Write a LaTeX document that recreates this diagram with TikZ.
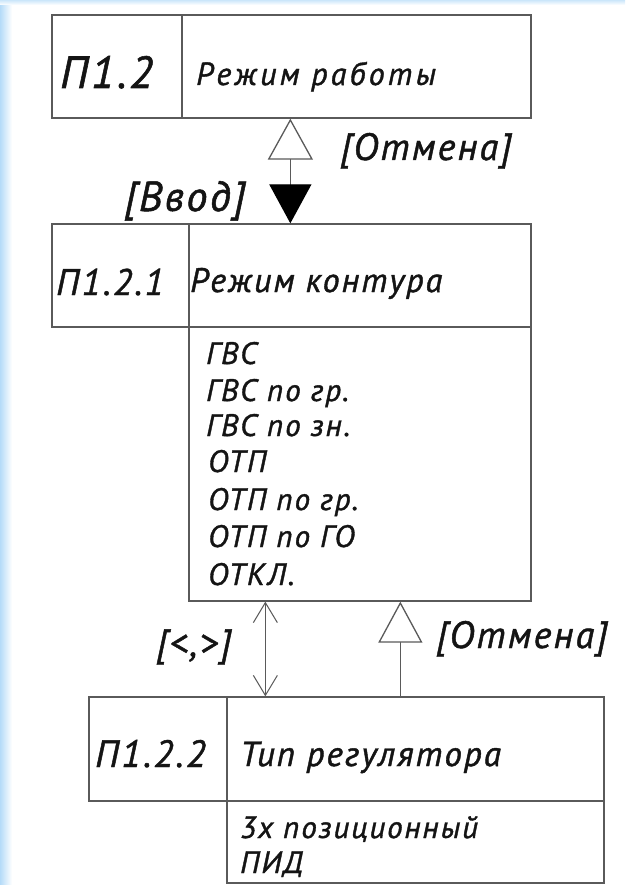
\documentclass[tikz,border=0pt]{standalone}
\usepackage{fontspec}
\newfontfamily\gost[LetterSpace=6,FakeBold=1.2]{PT Sans}
\usetikzlibrary{arrows.meta}
\definecolor{linec}{HTML}{5A5A5A}
\definecolor{txtc}{HTML}{141414}
\definecolor{edgeblue}{HTML}{B5DBF8}
\tikzset{
  cell/.style={draw=linec, line width=1.3pt, inner sep=0pt, minimum width=#1},
  lbl/.style={anchor=base west, inner sep=0pt, text=txtc, font=\gost\itshape},
  conn/.style={draw=linec, line width=1.3pt},
}
\begin{document}
\begin{tikzpicture}[x=1pt,y=-1pt]
\useasboundingbox (0,0) rectangle (625,885);
\fill[white] (0,0) rectangle (625,885);
\shade[left color=edgeblue, right color=white] (0,0) rectangle (12,885);
\shade[top color=edgeblue!70, bottom color=white] (0,0) rectangle (625,5);

% box 1
\node[cell=130pt, minimum height=103pt] (b1id) at (117,66.5) {};
\node[cell=349pt, minimum height=103pt] (b1nm) at (356.5,66.5) {};
% box 2
\node[cell=137pt, minimum height=103pt] (b2id) at (120.5,275.5) {};
\node[cell=342pt, minimum height=103pt] (b2nm) at (360,275.5) {};
\node[cell=342pt, minimum height=274pt] (b2ls) at (360,464) {};
% box 3
\node[cell=138pt, minimum height=104pt] (b3id) at (158,749) {};
\node[cell=377pt, minimum height=104pt] (b3nm) at (415.5,749) {};
\node[cell=377pt, minimum height=82pt] (b3ls) at (415.5,842) {};

% texts
\node[lbl, font=\gost\itshape\fontsize{45}{45}\selectfont] (t1) at (60,88) {П1.2};
\node[lbl, font=\gost\itshape\fontsize{32}{32}\selectfont\addfontfeature{LetterSpace=10}] (t2) at (196,85) {Режим работы};
\node[lbl, font=\gost\itshape\fontsize{38}{38}\selectfont] (l1) at (340,160) {[Отмена]};
\node[lbl, font=\gost\itshape\fontsize{42}{42}\selectfont] (l2) at (124,211) {[Ввод]};

\node[lbl, font=\gost\itshape\fontsize{37}{37}\selectfont] (t3) at (56,295) {П1.2.1};
\node[lbl, font=\gost\itshape\fontsize{34}{34}\selectfont] (t4) at (190,292) {Режим контура};
\node[lbl, font=\gost\itshape\fontsize{31}{31}\selectfont] (i1) at (206,364) {ГВС};
\node[lbl, font=\gost\itshape\fontsize{31}{31}\selectfont] (i2) at (206,401) {ГВС по гр.};
\node[lbl, font=\gost\itshape\fontsize{31}{31}\selectfont] (i3) at (206,436) {ГВС по зн.};
\node[lbl, font=\gost\itshape\fontsize{31}{31}\selectfont] (i4) at (208,472) {ОТП};
\node[lbl, font=\gost\itshape\fontsize{31}{31}\selectfont] (i5) at (208,510) {ОТП по гр.};
\node[lbl, font=\gost\itshape\fontsize{31}{31}\selectfont] (i6) at (208,547) {ОТП по ГО};
\node[lbl, font=\gost\itshape\fontsize{31}{31}\selectfont] (i7) at (208,585) {ОТКЛ.};

\node[lbl, font=\gost\itshape\fontsize{38}{38}\selectfont] (l3) at (156,656) {[<,>]};
\node[lbl, font=\gost\itshape\fontsize{38}{38}\selectfont] (l4) at (436,648) {[Отмена]};

\node[lbl, font=\gost\itshape\fontsize{38}{38}\selectfont] (t5) at (95,767) {П1.2.2};
\node[lbl, font=\gost\itshape\fontsize{35}{35}\selectfont] (t6) at (240,766) {Тип регулятора};
\node[lbl, font=\gost\itshape\fontsize{31}{31}\selectfont] (i8) at (240,838) {3х позиционный};
\node[lbl, font=\gost\itshape\fontsize{31}{31}\selectfont] (i9) at (240,873) {ПИД};

% connectors
\coordinate (c1a) at ([xshift=102pt]b2nm.north west);
\coordinate (c1b) at ([xshift=109pt]b1nm.south west);
\draw[conn, {Triangle[length=39pt,width=42pt,color=black,fill=black]}-{Triangle[open,length=41pt,width=45pt,fill=white]}] (c1a) -- (c1b);

\coordinate (c2a) at ([xshift=77pt]b2ls.south west);
\coordinate (c2b) at ([xshift=39pt]b3nm.north west);
\draw[conn, line width=1pt, {Straight Barb[length=20pt,width=24pt,line width=1pt]}-{Straight Barb[length=20pt,width=24pt,line width=1pt]}] (c2a) -- (c2b);

\coordinate (c3a) at ([xshift=174pt]b3nm.north west);
\coordinate (c3b) at ([xshift=212pt]b2ls.south west);
\draw[conn, -{Triangle[open,length=41pt,width=44pt,fill=white]}] (c3a) -- (c3b);
\end{tikzpicture}
\end{document}
